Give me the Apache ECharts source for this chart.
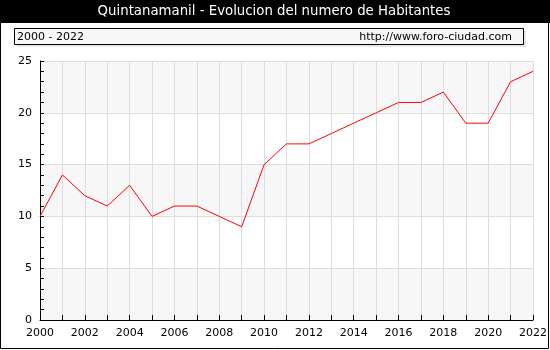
<!DOCTYPE html>
<html>
<head>
<meta charset="utf-8">
<script src="https://cdn.jsdelivr.net/npm/echarts@6/dist/echarts.min.js"></script>
<style>
html,body{margin:0;padding:0;background:#fff;}
#chart{width:550px;height:350px;}
</style>
</head>
<body>
<div id="chart"></div>
<script>
// Population of Quintanamanil by year
const years = ['2000','2001','2002','2003','2004','2005','2006','2007','2008','2009','2010','2011','2012','2013','2014','2015','2016','2017','2018','2019','2020','2021','2022'];
const habitantes = [10,14,12,11,13,10,11,11,10,9,15,17,17,18,19,20,21,21,22,19,19,23,24];
const titleText = 'Quintanamanil - Evolucion del numero de Habitantes';
const rangeText = '2000 - 2022';
const siteText = 'http://www.foro-ciudad.com';

const chart = echarts.init(document.getElementById('chart'), null, {renderer: 'canvas'});
const fontFam = '"DejaVu Sans", Verdana, sans-serif';

chart.setOption({
  animation: false,
  backgroundColor: '#ffffff',
  grid: {left: 40, top: 61, right: 14, bottom: 30},
  xAxis: {
    type: 'category',
    data: years,
    boundaryGap: false,
    axisLine: {lineStyle: {color: '#000', width: 1}},
    axisTick: {show: true, inside: true, length: 5, interval: 0, lineStyle: {color: '#000'}},
    axisLabel: {interval: 1, color: '#000', fontFamily: fontFam, fontSize: 11, margin: 8},
    splitLine: {show: true, interval: 0, lineStyle: {color: '#dddddd', width: 1}}
  },
  yAxis: [{
    type: 'value',
    min: 0, max: 25, interval: 5,
    axisLine: {show: true, lineStyle: {color: '#000', width: 1}},
    axisTick: {show: true, inside: true, length: 4, lineStyle: {color: '#000'}},
    axisLabel: {color: '#000', fontFamily: fontFam, fontSize: 11, margin: 8},
    splitLine: {show: true, lineStyle: {color: '#dddddd', width: 1}},
    splitArea: {show: true, areaStyle: {color: ['#f7f7f7', '#ffffff']}}
  }, {
    // unit ticks on the plot side of the value axis
    type: 'value',
    position: 'left',
    min: 0, max: 25, interval: 1,
    axisLine: {show: false},
    axisTick: {show: true, inside: true, length: 4, lineStyle: {color: '#000'}},
    axisLabel: {show: false},
    splitLine: {show: false}
  }],
  series: [{
    type: 'line',
    data: habitantes,
    symbol: 'none',
    lineStyle: {color: '#ff0000', width: 1},
    z: 5
  }],
  graphic: [
    {type: 'rect', shape: {x: 0, y: 0, width: 550, height: 23}, style: {fill: '#000'}, z: 10},
    {type: 'text', x: 274, y: 12, style: {text: titleText, fill: '#fff', font: '13.3px ' + fontFam, textAlign: 'center', textVerticalAlign: 'middle'}, z: 11},
    {type: 'rect', shape: {x: 17, y: 31, width: 509, height: 16}, style: {fill: '#e6e6e6'}, z: 10},
    {type: 'rect', shape: {x: 14.5, y: 28.5, width: 509, height: 16}, style: {fill: '#f7f7f7', stroke: '#000', lineWidth: 1}, z: 11},
    {type: 'text', x: 17, y: 37, style: {text: rangeText, fill: '#000', font: '11px ' + fontFam, textVerticalAlign: 'middle'}, z: 12},
    {type: 'text', x: 512, y: 37, style: {text: siteText, fill: '#000', font: '11px ' + fontFam, textAlign: 'right', textVerticalAlign: 'middle'}, z: 12},
    {type: 'rect', shape: {x: 0.5, y: 0.5, width: 548, height: 348}, style: {fill: 'none', stroke: '#000', lineWidth: 1}, z: 12}
  ]
});
</script>
</body>
</html>
